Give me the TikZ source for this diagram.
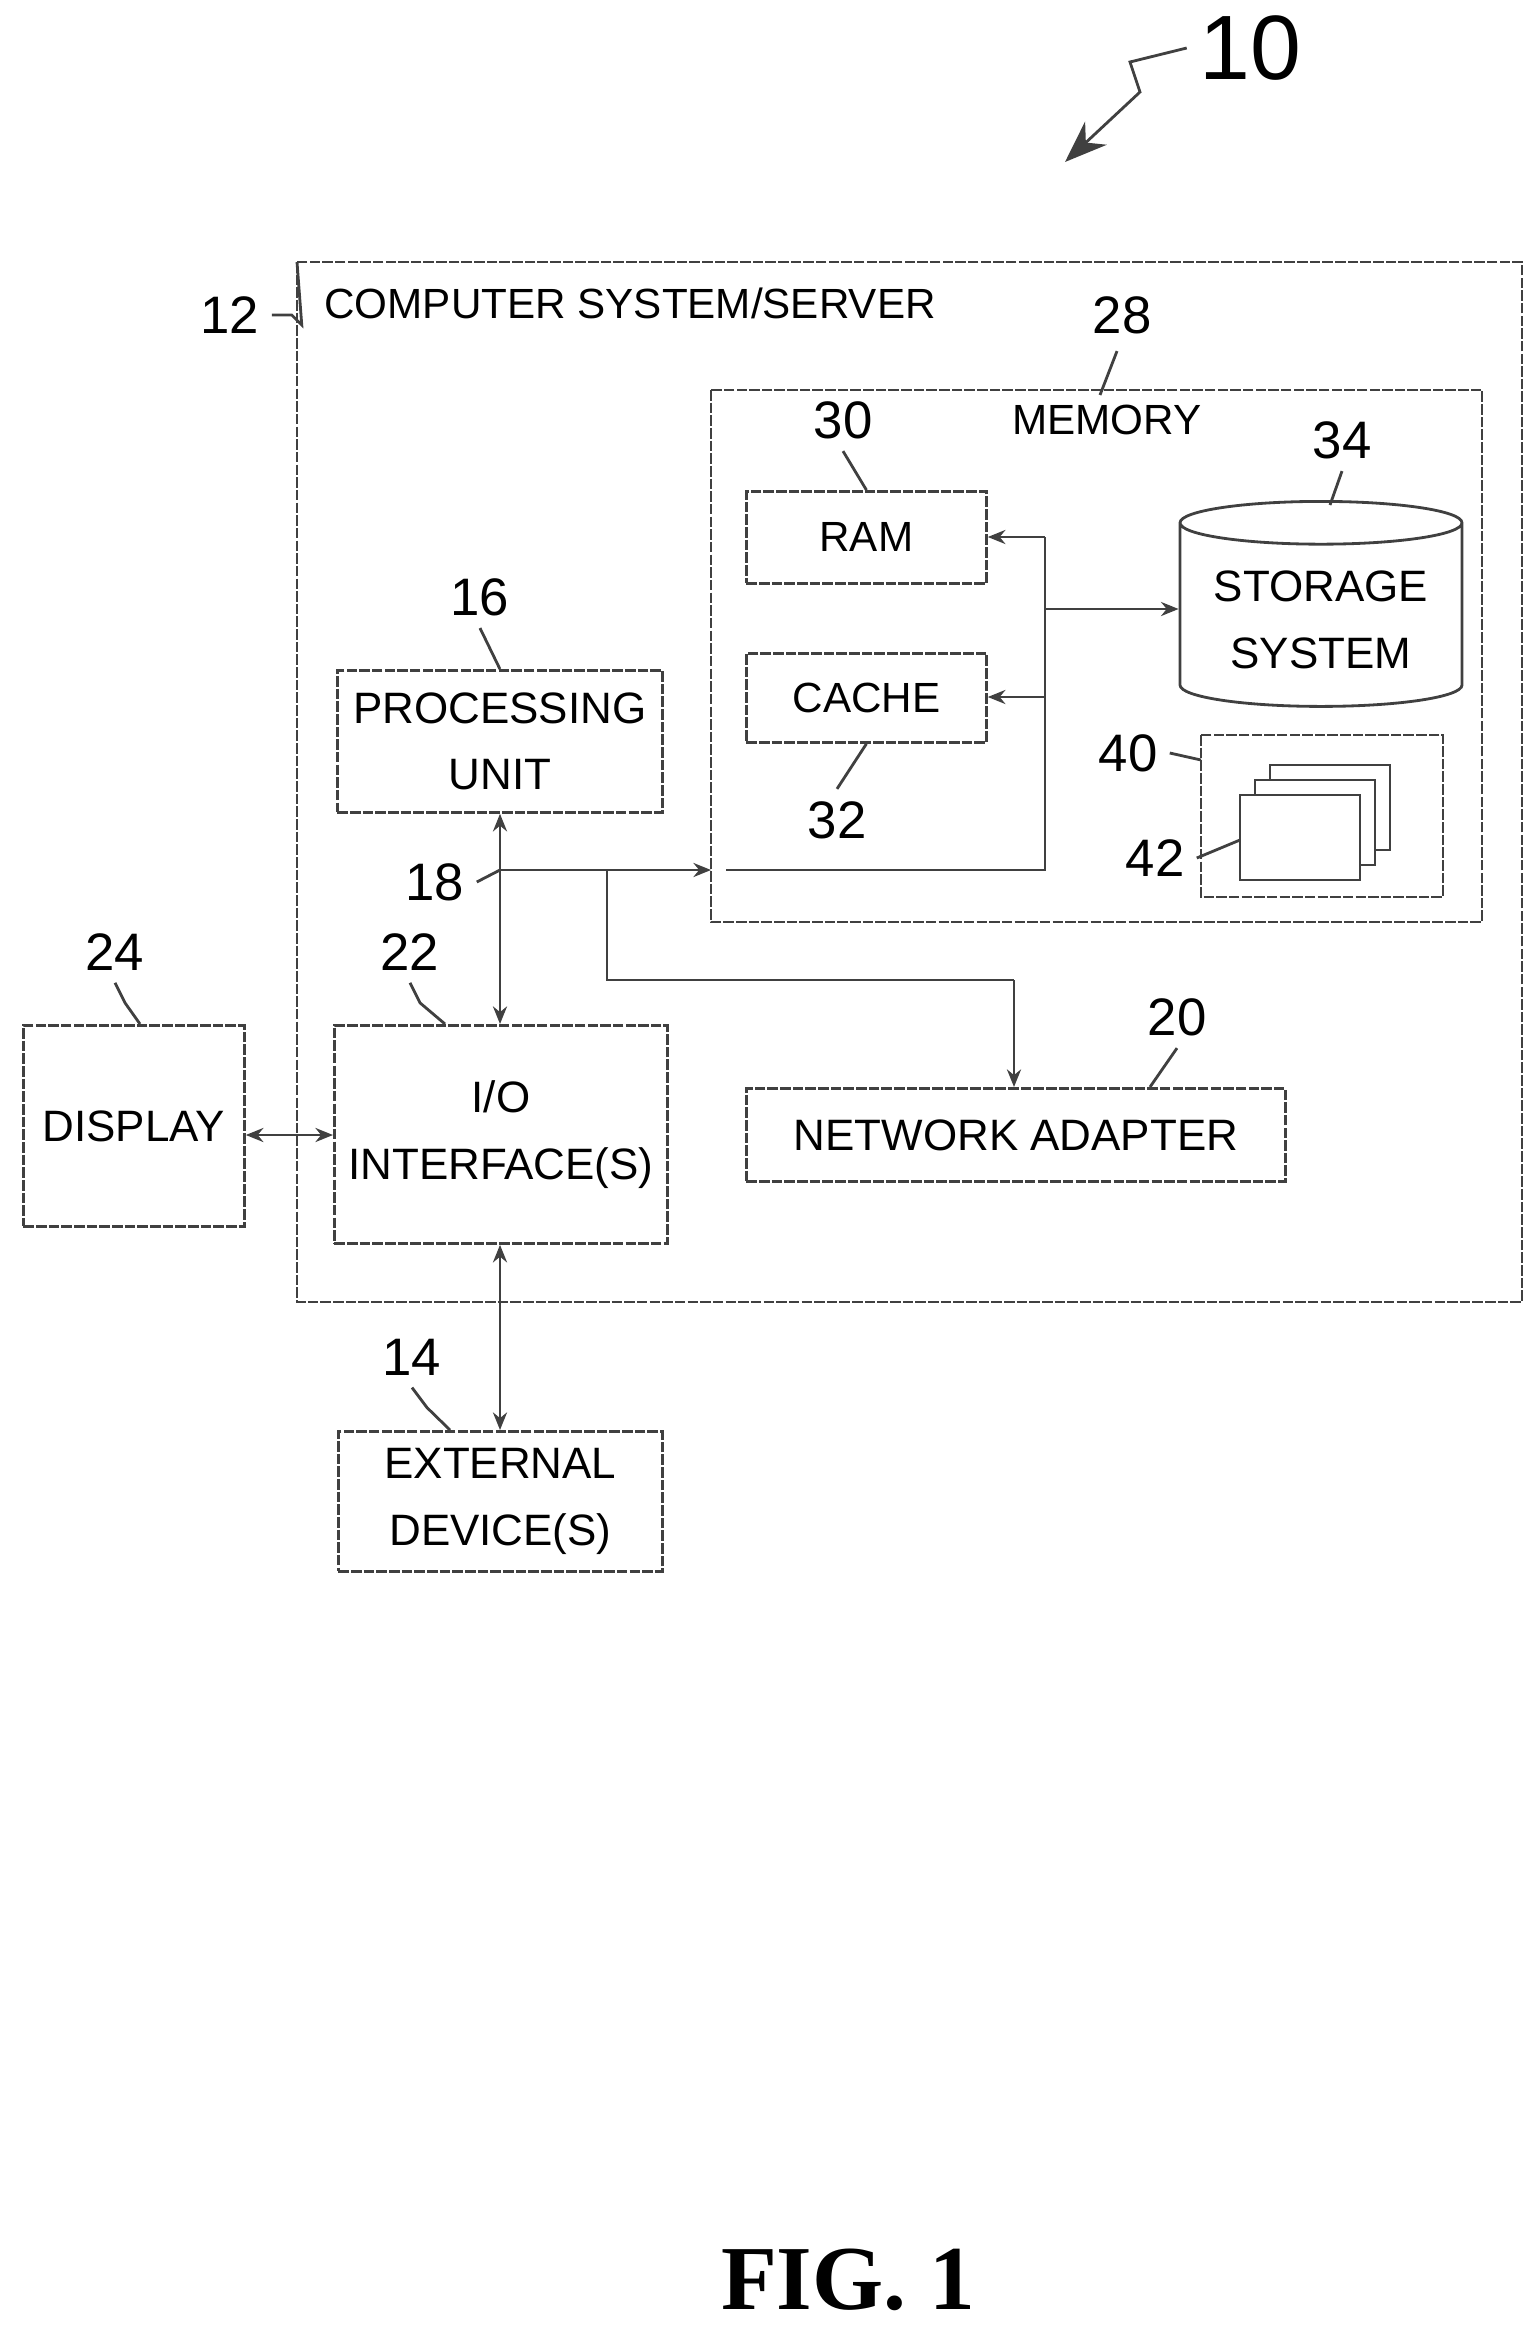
\documentclass[tikz,border=0pt]{standalone}
\usepackage{fontspec}
\setmainfont{Liberation Sans}
\newfontfamily\figfont{Liberation Serif}
\usetikzlibrary{arrows.meta,shapes.geometric}
\begin{document}
\begin{tikzpicture}[x=0.01cm,y=-0.01cm,
 box/.style={draw=black!75,line width=0.8pt,dash pattern=on 3pt off 0.6pt,align=center,font=\fontsize{12}{14}\selectfont,inner sep=0pt},
 num/.style={font=\fontsize{15}{16}\selectfont},
 ln/.style={draw=black!75,line width=0.8pt},
 arr/.style={ln,-{Stealth[length=5pt,width=4pt]}},
 darr/.style={ln,{Stealth[length=5pt,width=4pt]}-{Stealth[length=5pt,width=4pt]}}]
\useasboundingbox (0,0) rectangle (1537,2339);
% outer
\draw[ln,dash pattern=on 3pt off 0.6pt] (297,262) rectangle (1522,1302);
\coordinate (sysnw) at (297,262);
\node[anchor=west,font=\fontsize{12}{14}\selectfont] (systxt) at (312,303) {COMPUTER SYSTEM/SERVER};
\node[num] (n12) at (230,315) {12};
\draw[ln] (n12.east) -- ++(20,0) -- ++(10,10) -- (sysnw);
% memory
\draw[ln,dash pattern=on 3pt off 0.6pt] (711,390) rectangle (1482,922);
\coordinate (memw) at (711,870);
\node[font=\fontsize{12}{14}\selectfont] (memtxt) at (1107,420) {MEMORY};
\node[num] (n28) at (1122,315) {28};
\draw[ln] (n28.south) ++(-5,5) -- (1100,395);
\node[box,minimum width=240*0.01cm,minimum height=92*0.01cm,anchor=north west] (ram) at (745,490) {RAM};
\node[box,minimum width=240*0.01cm,minimum height=89*0.01cm,anchor=north west] (cache) at (745,652) {CACHE};
\node[num] (n30) at (843,420) {30};
\draw[ln] (n30.south) -- (ram.north);
\node[num] (n32) at (837,820) {32};
\draw[ln] (n32.north) -- (cache.south);
% storage
\node[draw=black!75,line width=0.8pt,cylinder,shape border rotate=90,aspect=0.18,minimum width=282*0.01cm,minimum height=205*0.01cm,align=center,font=\fontsize{12.5}{19}\selectfont,anchor=north] (stor) at (1321,500) {STORAGE\\SYSTEM};
\node[num] (n34) at (1342,440) {34};
\draw[ln] (n34.south) -- (1330,505);
% 40
\draw[ln,dash pattern=on 3pt off 0.6pt] (1201,735) rectangle (1443,897);
\coordinate (b40) at (1201,760);
\node[num] (n40) at (1128,753) {40};
\draw[ln] (n40.east) -- (b40);
\foreach \d in {2,1,0}{\draw[ln,fill=white] (1240+\d*15,795-\d*15) rectangle (1360+\d*15,880-\d*15);}
\coordinate (p42) at (1240,840);
\node[num] (n42) at (1155,858) {42};
\draw[ln] (n42.east) -- (p42);
% processing etc
\node[box,minimum width=325*0.01cm,minimum height=142*0.01cm,anchor=north west,font=\fontsize{12.5}{19}\selectfont] (pu) at (336,669) {PROCESSING\\UNIT};
\node[num] (n16) at (480,597) {16};
\draw[ln] (n16.south) -- (pu.north);
\node[box,minimum width=333*0.01cm,minimum height=218*0.01cm,anchor=north west,font=\fontsize{12.5}{19}\selectfont] (io) at (333,1024) {I/O\\INTERFACE(S)};
\node[num] (n22) at (410,952) {22};
\draw[ln] (n22.south) -- ++(10,20) -- (445,1024);
\node[box,minimum width=221*0.01cm,minimum height=201*0.01cm,anchor=north west,font=\fontsize{12.5}{15}\selectfont] (disp) at (22,1024) {DISPLAY};
\node[num] (n24) at (115,952) {24};
\draw[ln] (n24.south) -- ++(10,20) -- (140,1024);
\node[box,minimum width=539*0.01cm,minimum height=93*0.01cm,anchor=north west,font=\fontsize{12.5}{15}\selectfont] (net) at (745,1087) {NETWORK ADAPTER};
\node[num] (n20) at (1177,1017) {20};
\draw[ln] (n20.south) -- (1150,1087);
\node[box,minimum width=324*0.01cm,minimum height=140*0.01cm,anchor=north west,font=\fontsize{12.5}{19}\selectfont] (ext) at (337,1430) {EXTERNAL\\DEVICE(S)};
\node[num] (n14) at (412,1357) {14};
\draw[ln] (n14.south) -- ++(15,20) -- (450,1430);
% bus
\coordinate (bus) at (500,870);
\coordinate (br) at (607,870);
\draw[darr] (pu.south -| bus) -- (io.north -| bus);
\draw[arr] (bus) -- (memw);
\node[num] (n18) at (435,882) {18};
\draw[ln] (n18.east) -- (bus);
\coordinate (nb) at (1014,980);
\draw[ln] (br) |- (nb);
\draw[arr] (nb) -- (net.north -| nb);
\coordinate (mv) at (1045,870);
\draw[ln] (memw) ++(15,0) -- (mv) -- (1045,537);
\draw[arr] (1045,537) -- (ram.east |- 0,537);
\draw[arr] (1045,697) -- (cache.east |- 0,697);
\draw[arr] (1045,609) -- (stor.west |- 0,609);
\draw[darr] (disp.east |- 0,1135) -- (io.west |- 0,1135);
\draw[darr] (io.south -| bus) -- (ext.north -| bus);
% 10
\node[font=\fontsize{26}{28}\selectfont] (n10) at (1250,48) {10};
\coordinate (a10) at (1065,162);
\draw[ln,-{Stealth[length=12pt,width=9pt]}] (n10.west) -- (1130,62) -- (1140,92) -- (a10);
\node[font=\figfont\bfseries\fontsize{26}{28}\selectfont] (fig) at (848,2280) {FIG. 1};
\end{tikzpicture}
\end{document}
